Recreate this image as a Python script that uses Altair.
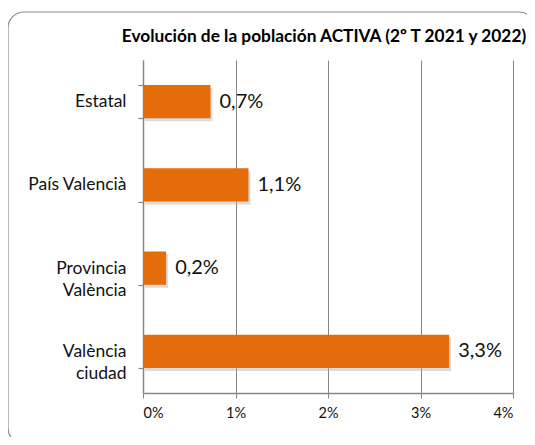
import altair as alt
import pandas as pd

categories = ["Estatal", "País Valencià", "Provincia\nValència", "València\nciudad"]
values = [0.73, 1.14, 0.25, 3.31]
value_labels = ["0,7%", "1,1%", "0,2%", "3,3%"]
x_ticks = [0, 1, 2, 3, 4]
title_text = "Evolución de la población ACTIVA (2º T 2021 y 2022)"

df = pd.DataFrame({"cat": categories, "val": values, "lab": value_labels})

FONT = "Lato"
GRID = "#868686"
ORANGE = "#E46C0A"

y_enc = alt.Y(
    "cat:N",
    sort=None,
    title=None,
    scale=alt.Scale(paddingInner=0.6, paddingOuter=0.3),
    axis=alt.Axis(
        labelExpr="split(datum.label, '\\n')",
        labelFont=FONT,
        labelFontSize=17.5,
        labelColor="#111111",
        labelLineHeight=22,
        labelPadding=12,
        tickBand="extent",
        tickSize=5,
        tickColor=GRID,
        tickWidth=1.2,
        domainColor=GRID,
        domainWidth=1.5,
        grid=False,
    ),
)

x_enc = alt.X(
    "val:Q",
    title=None,
    scale=alt.Scale(domain=[0, 4], nice=False),
    axis=alt.Axis(
        values=x_ticks,
        labelExpr="datum.value + '%'",
        labelFont=FONT,
        labelFontSize=14.5,
        labelColor="#111111",
        labelPadding=8,
        tickSize=5,
        tickColor=GRID,
        domainColor=GRID,
        domainWidth=1.5,
        grid=True,
        gridColor=GRID,
        gridWidth=1,
    ),
)

border = alt.Chart(pd.DataFrame({"d": [0]})).mark_rect(
    fill=None, stroke="#8c8c8c", strokeWidth=1.2, cornerRadius=16
).encode(
    x=alt.value(-135), x2=alt.value(392),
    y=alt.value(-48), y2=alt.value(384),
)

title = alt.Chart(pd.DataFrame({"t": [title_text]})).mark_text(
    font=FONT, fontSize=17.3, fontWeight="bold", color="#000000",
    align="center", baseline="alphabetic"
).encode(x=alt.value(181), y=alt.value(-18), text="t:N")

shadow = alt.Chart(df).mark_bar(
    color="#b0b0b0", opacity=0.45, xOffset=2, yOffset=3
).encode(y=y_enc, x=x_enc)

bars = alt.Chart(df).mark_bar(color=ORANGE).encode(y=y_enc, x=x_enc)

text = alt.Chart(df).mark_text(
    align="left", baseline="middle", dx=9, font=FONT, fontSize=20, color="#111111"
).encode(y=y_enc, x=x_enc, text="lab:N")

chart = alt.layer(border, title, shadow, bars, text).properties(
    width=370,
    height=333,
    autosize=alt.AutoSizeParams(type="none"),
    padding={"left": 135, "top": 52, "right": 14, "bottom": 44},
).configure_view(stroke=None)

chart.save("out.html", embed_options={"renderer": "svg", "actions": False})
